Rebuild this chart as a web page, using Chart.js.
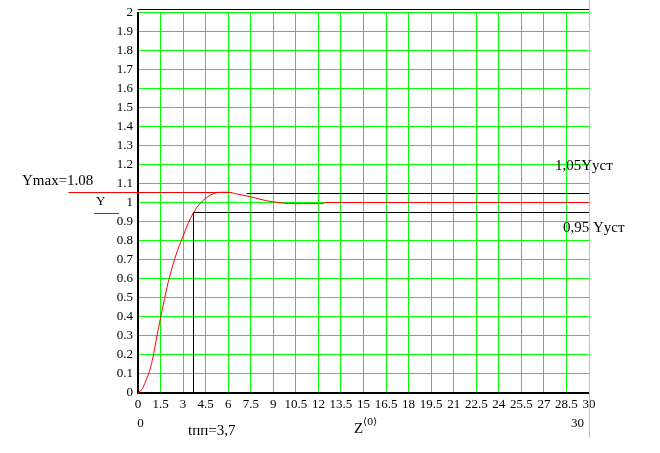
<!DOCTYPE html>
<html><head><meta charset="utf-8">
<script src="https://cdn.jsdelivr.net/npm/chart.js@4/dist/chart.umd.min.js"></script>
<style>html,body{margin:0;padding:0;background:#fff;}</style>
</head><body>
<canvas id="c" width="660" height="453"></canvas>
<script>
// ---- data ----
const timeValues     = [0, 0.3, 0.6, 0.8, 1.0, 1.25, 1.5, 1.75, 2.0, 2.5, 3.0, 3.35, 3.7, 4.0, 4.35, 4.7, 5.0, 5.5, 6.0, 6.5, 7.0, 7.5, 8.0, 8.5, 9.0, 9.5, 10.0, 10.5, 11.0, 11.5, 12.0, 12.4];
const responseValues = [0, 0.025, 0.08, 0.125, 0.19, 0.295, 0.395, 0.49, 0.58, 0.72, 0.825, 0.895, 0.95, 0.985, 1.014, 1.035, 1.048, 1.056, 1.056, 1.048, 1.04, 1.032, 1.022, 1.012, 1.005, 1.0, 0.997, 0.996, 0.996, 0.996, 0.996, 0.998];
const xTickValues = [0,1.5,3,4.5,6,7.5,9,10.5,12,13.5,15,16.5,18,19.5,21,22.5,24,25.5,27,28.5,30];
const xTickLabels = ["0","1.5","3","4.5","6","7.5","9","10.5","12","13.5","15","16.5","18","19.5","21","22.5","24","25.5","27","28.5","30"];
const yTickValues = [0,0.1,0.2,0.3,0.4,0.5,0.6,0.7,0.8,0.9,1,1.1,1.2,1.3,1.4,1.5,1.6,1.7,1.8,1.9,2];
const yTickLabels = ["0","0.1","0.2","0.3","0.4","0.5","0.6","0.7","0.8","0.9","1","1.1","1.2","1.3","1.4","1.5","1.6","1.7","1.8","1.9","2"];
const ymaxLevel = 1.056;
const ymaxLineX = [-4.6, 6.2];
const steadyLevel = 1.0;
const steadyLineX = [12.4, 30];
const upperLevel = 1.05;
const upperLineX = [7.2, 30];
const lowerLevel = 0.95;
const lowerLineX = [3.7, 30];
const tpp = 3.7;

const SERIF = '"Liberation Serif", "Times New Roman", serif';

function seg(xs, level){ return xs.map(x => ({x:x, y:level})); }

// snap straight reference lines to whole pixels (crisp like the original)
const snapPlugin = {
  id: 'snapLines',
  afterDatasetsUpdate(chart){
    chart.data.datasets.forEach((ds, i) => {
      if (!ds.snap) return;
      const meta = chart.getDatasetMeta(i);
      meta.data.forEach(p => {
        p.x = Math.round(p.x - 0.5) + 0.5;
        p.y = Math.round(p.y - 0.5) + 0.5;
      });
      if (meta.dataset) meta.dataset._path = undefined;
    });
  }
};

const textPlugin = {
  id: 'mathcadText',
  afterDraw(chart){
    const ctx = chart.ctx;
    const a = chart.chartArea;
    ctx.save();
    ctx.strokeStyle = '#000'; ctx.lineWidth = 1;
    ctx.beginPath(); ctx.moveTo(a.left, 9.5); ctx.lineTo(a.right + 1, 9.5); ctx.stroke();
    ctx.strokeStyle = '#c0c0c0';
    ctx.beginPath(); ctx.moveTo(589.5, 0); ctx.lineTo(589.5, 438); ctx.stroke();
    ctx.strokeStyle = '#ff0000';
    ctx.beginPath(); ctx.moveTo(94, 213.5); ctx.lineTo(119, 213.5); ctx.stroke();
    ctx.fillStyle = '#000';
    ctx.textBaseline = 'alphabetic';
    ctx.textAlign = 'left';
    ctx.font = '15px ' + SERIF;
    ctx.fillText('Ymax=1.08', 22, 185);
    ctx.fillText('1,05Yуст', 555, 170);
    ctx.fillText('0,95 Yуст', 563, 232);
    ctx.fillText('tпп=3,7', 188, 435);
    ctx.fillText('Z', 354, 433);
    ctx.font = '13px ' + SERIF;
    ctx.fillText('Y', 96, 205);
    ctx.textAlign = 'center';
    ctx.fillText('0', 140.5, 427);
    ctx.fillText('30', 577.5, 427);
    ctx.textAlign = 'left';
    ctx.font = '10px "DejaVu Serif", serif';
    ctx.fillText('\u27E80\u27E9', 363, 425);
    ctx.restore();
  }
};

new Chart(document.getElementById('c'), {
  type: 'line',
  data: {
    datasets: [
      { data: timeValues.map((t,i)=>({x:t, y:responseValues[i]})), borderColor:'#ff0000', borderWidth:1, pointRadius:0, cubicInterpolationMode:'monotone' },
      { data: seg(ymaxLineX, ymaxLevel), borderColor:'#ff0000', borderWidth:1, pointRadius:0, clip:false, snap:true },
      { data: seg(steadyLineX, steadyLevel), borderColor:'#ff0000', borderWidth:1, pointRadius:0, snap:true },
      { data: seg(upperLineX, upperLevel), borderColor:'#000000', borderWidth:1, pointRadius:0, snap:true },
      { data: seg(lowerLineX, lowerLevel), borderColor:'#000000', borderWidth:1, pointRadius:0, snap:true },
      { data: [{x:tpp, y:0},{x:tpp, y:lowerLevel}], borderColor:'#000000', borderWidth:1, pointRadius:0, snap:true }
    ]
  },
  options: {
    responsive:false, animation:false, devicePixelRatio:1,
    layout:{ padding:{ left:0, top:9, right:71, bottom:0 } },
    plugins:{ legend:{display:false}, tooltip:{enabled:false} },
    scales:{
      x:{ type:'linear', min:0, max:30,
        afterBuildTicks:s=>{ s.ticks = xTickValues.map(v=>({value:v})); },
        afterFit:s=>{ s.height = 60; },
        grid:{ color:'#00ff00', lineWidth:1, drawTicks:false },
        border:{ display:true, color:'#000', width:2 },
        ticks:{ color:'#000', padding:4, maxRotation:0, autoSkip:false, font:{family:SERIF, size:13},
          callback:(v,i)=>xTickLabels[i] } },
      y:{ type:'linear', min:0, max:2,
        afterBuildTicks:s=>{ s.ticks = yTickValues.map(v=>({value:v})); },
        afterFit:s=>{ s.width = 138; },
        grid:{ color:'#00ff00', lineWidth:1, drawTicks:false },
        border:{ display:true, color:'#000', width:2 },
        ticks:{ color:'#000', padding:5, autoSkip:false, font:{family:SERIF, size:13},
          callback:(v,i)=>yTickLabels[i] } }
    }
  },
  plugins:[snapPlugin, textPlugin]
});
</script>
</body></html>
